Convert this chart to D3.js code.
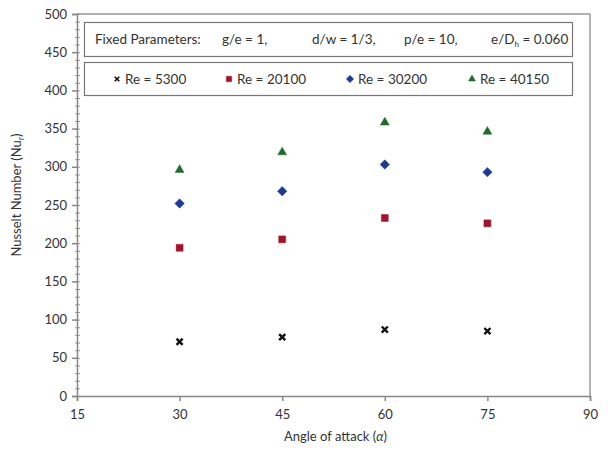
<!DOCTYPE html>
<html><head><meta charset="utf-8">
<script src="https://cdn.jsdelivr.net/npm/d3@7"></script>
<style>
body{margin:0;background:#fff;}
svg{display:block;font-family:Lato,"Open Sans",sans-serif;}
</style></head><body>
<script>
const angles = [30, 45, 60, 75];
const re5300  = [71, 77, 87, 85];
const re20100 = [194, 205, 233, 226];
const re30200 = [252, 268, 303, 293];
const re40150 = [296, 319, 358, 346];
const seriesNames = ["Re = 5300", "Re = 20100", "Re = 30200", "Re = 40150"];
const xTicks = [15, 30, 45, 60, 75, 90];
const yTicks = [0, 50, 100, 150, 200, 250, 300, 350, 400, 450, 500];

const W = 608, H = 456;
const svg = d3.select("body").append("svg").attr("width", W).attr("height", H);
const x = d3.scaleLinear().domain([15, 90]).range([77, 590]);
const y = d3.scaleLinear().domain([0, 500]).range([396, 14]);
const axisCol = "#888";
const txtCol = "#333";

const squareDiamond = {
  draw(ctx, size) {
    const r = Math.sqrt(size / 2);
    ctx.moveTo(0, -r); ctx.lineTo(r, 0); ctx.lineTo(0, r); ctx.lineTo(-r, 0); ctx.closePath();
  }
};

// frame top/right
svg.append("line").attr("x1", x(15)).attr("x2", x(90)).attr("y1", y(500)).attr("y2", y(500)).attr("stroke", "#999").attr("stroke-width", 1.5);
svg.append("line").attr("x1", x(90)).attr("x2", x(90)).attr("y1", y(500)).attr("y2", y(0)).attr("stroke", "#999").attr("stroke-width", 1.5);

// minor y ticks
const minor = d3.range(0, 501, 10);
svg.append("g").selectAll("line").data(minor).join("line")
  .attr("x1", x(15) - 2).attr("x2", x(15) + 3).attr("y1", d => y(d) + 0.5).attr("y2", d => y(d) + 0.5)
  .attr("stroke", "#999").attr("stroke-width", 1);

// axes
const yAxis = svg.append("g").attr("transform", `translate(${x(15)},0)`)
  .call(d3.axisLeft(y).tickValues(yTicks).tickSize(5).tickPadding(5));
const xAxis = svg.append("g").attr("transform", `translate(0,${y(0)})`)
  .call(d3.axisBottom(x).tickValues(xTicks).tickSize(5).tickPadding(9));
[yAxis, xAxis].forEach(g => {
  g.select(".domain").attr("stroke", axisCol).attr("stroke-width", 1.5);
  g.selectAll(".tick line").attr("stroke", axisCol).attr("stroke-width", 1.5);
  g.selectAll("text").attr("fill", txtCol).style("font-size", "13px").style("font-family", "Lato,sans-serif");
});

// axis titles
svg.append("text").attr("x", x(52.5) + 2).attr("y", 441).attr("text-anchor", "middle")
  .attr("fill", txtCol).style("font-size", "13px")
  .html('Angle of attack (<tspan font-style="italic">α</tspan>)');
const yl = svg.append("text").attr("transform", `translate(21,${y(250) - 10}) rotate(-90)`)
  .attr("text-anchor", "middle").attr("fill", txtCol).style("font-size", "13px");
yl.append("tspan").text("Nusselt Number  (Nu");
yl.append("tspan").attr("dy", 3).style("font-size", "9px").text("r");
yl.append("tspan").attr("dy", -3).text(")");

// series
const series = [
  {vals: re5300, color: "#111", sym: d3.symbolX, size: 26},
  {vals: re20100, color: "#a3142a", sym: d3.symbolSquare, size: 48},
  {vals: re30200, color: "#1c3a96", sym: squareDiamond, size: 44},
  {vals: re40150, color: "#1f6b2c", sym: d3.symbolTriangle, size: 34}
];
series.forEach((s, i) => {
  const g = svg.append("g");
  g.selectAll("path").data(s.vals).join("path")
    .attr("transform", (d, j) => `translate(${x(angles[j])},${y(d)})`)
    .attr("d", d3.symbol().type(s.sym).size(s.size))
    .attr("fill", s.color)
    .attr("stroke", s.color)
    .attr("stroke-width", i === 0 ? 2.4 : 0.5);
});

// parameter box
svg.append("rect").attr("x", 84.5).attr("y", 22.5).attr("width", 488).attr("height", 34)
  .attr("fill", "#fff").attr("stroke", "#777").attr("stroke-width", 1.2);
const pt = svg.append("text").attr("y", 44).attr("fill", txtCol).style("font-size", "13.5px");
pt.append("tspan").attr("x", 95).text("Fixed Parameters:");
pt.append("tspan").attr("x", 222).text("g/e = 1,");
pt.append("tspan").attr("x", 312).text("d/w = 1/3,");
pt.append("tspan").attr("x", 404).text("p/e = 10,");
pt.append("tspan").attr("x", 491).text("e/D");
pt.append("tspan").attr("dy", 3).style("font-size", "8px").text("h");
pt.append("tspan").attr("dy", -3).text(" = 0.060");

// legend box
svg.append("rect").attr("x", 84.5).attr("y", 62.5).attr("width", 488).attr("height", 33)
  .attr("fill", "#fff").attr("stroke", "#777").attr("stroke-width", 1.2);
const legX = [117, 229, 350, 472];
series.forEach((s, i) => {
  svg.append("path").attr("transform", `translate(${legX[i]},${79})`)
    .attr("d", d3.symbol().type(s.sym).size(s.size * 0.6))
    .attr("fill", s.color).attr("stroke", s.color).attr("stroke-width", i === 0 ? 1.6 : 0.5);
  svg.append("text").attr("x", legX[i] + 8).attr("y", 84).attr("fill", txtCol)
    .style("font-size", "13.5px").text(seriesNames[i]);
});
</script>
</body></html>
